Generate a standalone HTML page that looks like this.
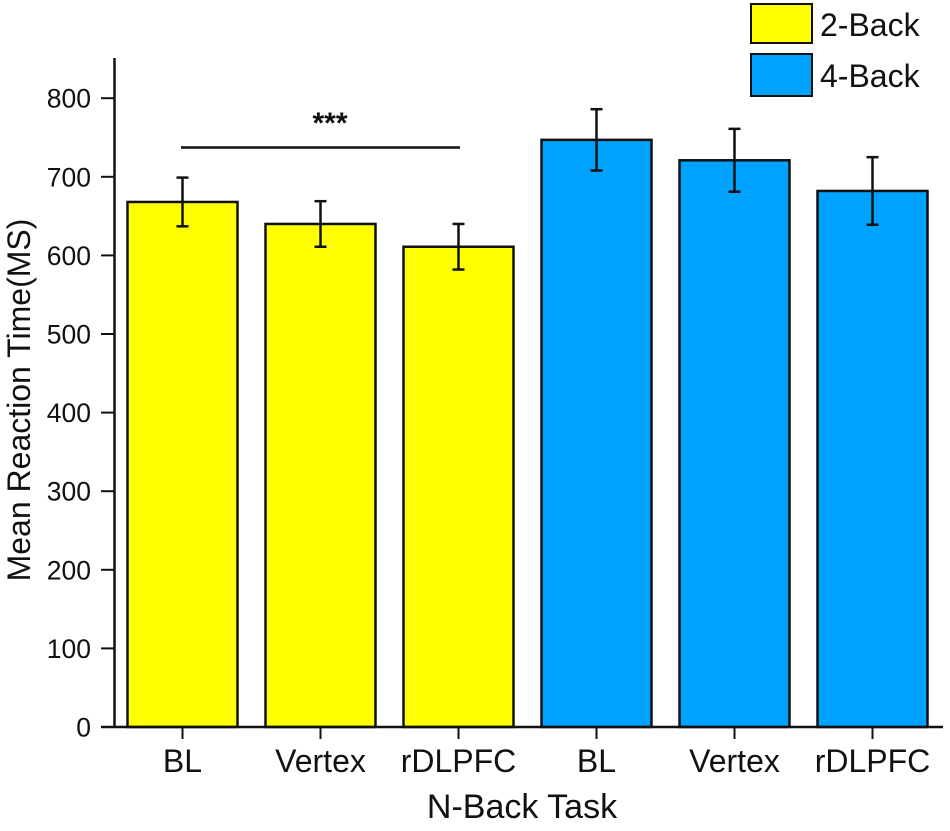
<!DOCTYPE html>
<html><head><meta charset="utf-8"><style>
body{margin:0;background:#fff;}
svg text{font-family:"Liberation Sans",Arial,sans-serif;fill:#111;}
</style></head><body>
<svg id="chart" width="950" height="826"></svg>
<script>
const categories=["BL","Vertex","rDLPFC","BL","Vertex","rDLPFC"];
const groups=["2-Back","2-Back","2-Back","4-Back","4-Back","4-Back"];
const values=[668,640,611,747,721,682];
const errors=[31,29,29,39,40,43];
const yTicks=[0,100,200,300,400,500,600,700,800];
const colors={"2-Back":"#ffff00","4-Back":"#00a2ff"};
const svg=document.getElementById('chart');
const NS="http://www.w3.org/2000/svg";
const y0=727, pxPer=0.786;
function y(v){return y0-v*pxPer;}
function xc(i){return 182.5+i*138;}
const bw=110;
function mk(tag,attrs,parent){const e=document.createElementNS(NS,tag);for(const k in attrs)e.setAttribute(k,attrs[k]);(parent||svg).appendChild(e);return e;}
categories.forEach((c,i)=>{
  const g=mk('g',{});
  
  
  mk('rect',{x:xc(i)-bw/2,y:y(values[i]),width:bw,height:y0-y(values[i]),fill:colors[groups[i]],stroke:'#111','stroke-width':2.5},g);
  const eb=mk('g',{stroke:'#111','stroke-width':2.5},g);
  
  
  const hi=y(values[i]+errors[i]),lo=y(values[i]-errors[i]);
  mk('line',{x1:xc(i),x2:xc(i),y1:hi,y2:lo},eb);
  mk('line',{x1:xc(i)-6,x2:xc(i)+6,y1:hi,y2:hi},eb);
  mk('line',{x1:xc(i)-6,x2:xc(i)+6,y1:lo,y2:lo},eb);
  mk('line',{x1:xc(i),x2:xc(i),y1:y0,y2:y0+12,stroke:'#111','stroke-width':2});
  const t=mk('text',{x:xc(i),y:772,'text-anchor':'middle','font-size':32});
  t.textContent=c;
  
  
});
const ya=mk('line',{x1:114.5,x2:114.5,y1:58,y2:y0+1,stroke:'#111','stroke-width':2.5});


const xa=mk('line',{x1:101,x2:943,y1:y0,y2:y0,stroke:'#111','stroke-width':2.5});


yTicks.forEach(v=>{
  mk('line',{x1:101,x2:114,y1:y(v),y2:y(v),stroke:'#111','stroke-width':2});
  const t=mk('text',{x:91,y:y(v)+9.5,'text-anchor':'end','font-size':26.5});
  t.textContent=v;
  
  
});
</script>
<svg width="950" height="826" style="position:absolute;left:0;top:0">
<line x1="181" x2="460" y1="147.5" y2="147.5" stroke="#111" stroke-width="2.5"/>
<text x="330" y="133" text-anchor="middle" font-size="30" font-weight="bold">***</text>
<text transform="translate(30,400) rotate(-90)" text-anchor="middle" font-size="32">Mean Reaction Time(MS)</text>
<text x="522" y="818" text-anchor="middle" font-size="34">N-Back Task</text>
<g>
<rect x="751" y="4" width="61" height="39" fill="#ffff00" stroke="#111" stroke-width="2"/>
<text x="820" y="36" font-size="32">2-Back</text>
<rect x="751" y="54" width="61" height="42" fill="#00a2ff" stroke="#111" stroke-width="2"/>
<text x="820" y="87" font-size="32">4-Back</text>
</g>
</svg>
</body></html>
